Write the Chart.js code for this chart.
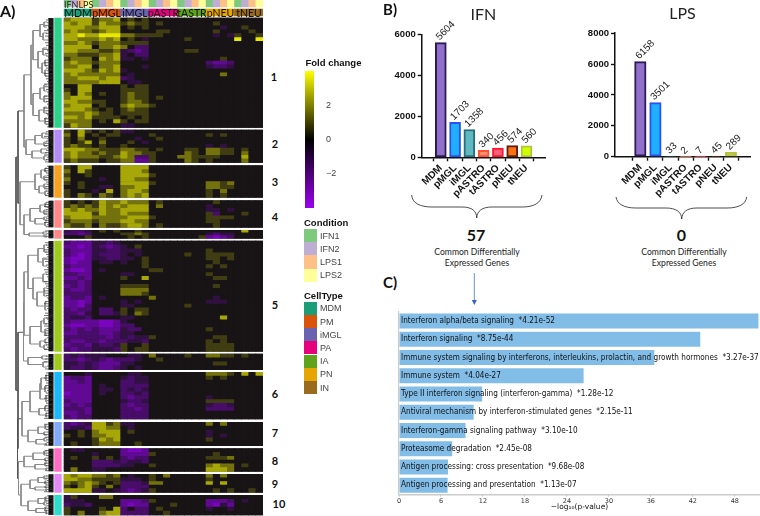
<!DOCTYPE html>
<html><head><meta charset="utf-8">
<style>
html,body{margin:0;padding:0;background:#fff;width:760px;height:516px;overflow:hidden}
canvas{position:absolute;display:block}
.t{position:absolute;white-space:nowrap;line-height:1;color:#111}
.sw{position:absolute;width:13px;height:13.2px}
svg{position:absolute;left:0;top:0}
</style>
<script src="https://cdn.jsdelivr.net/npm/chart.js@4"></script>
</head><body>
<svg width="760" height="516" viewBox="0 0 760 516">
<path d="M411.7 195C412 203 420 207 432 207L462 207C472 207 476.7 211 476.7 218C477 211 482 207 492 207L522 207C534 207 541 203 542 195" fill="none" stroke="#222" stroke-width=".8"/>
<path d="M616 197C617 204 624 208 636 208L666 208C676 208 681.7 212 681.7 219C682 212 687 208 697 208L727 208C739 208 746 204 746.7 197" fill="none" stroke="#222" stroke-width=".8"/>
<path d="M474.3 273L474.3 302" stroke="#6f8fdc" stroke-width="1" fill="none"/>
<path d="M471.8 300L476.8 300L474.3 305Z" fill="#3a5fcc"/>
</svg>
<script>
// ---------- Panel A data: fold-change codes per row, seven cell types x four conditions
// . = 0, 1..4 = rising positive fold change, a..d = rising negative fold change
const conditions = ['IFN1','IFN2','LPS1','LPS2'];
const cellTypes = ['MDM','PM','iMGL','PA','IA','PN','IN'];
const cellTypeHeaders = ['MDM','pMGL','iMGL','pASTR','tASTR','pNEU','tNEU'];
const codeLevels = {'.':0,'1':0.7,'2':1.6,'3':2.5,'4':3.6,'a':-0.8,'b':-1.5,'c':-2.3,'d':-3.1};
const cluster1 = [
"2333 1223 .1.1 .... .... .... ....",
"3233 1322 1211 .1.. .... .1.. ....",
"3332 2333 .1.1 .... .... ..a. .1..",
"2322 1233 .... .11. .... .1.. ..1.",
"3343 3444 2211 11.. .... .a.a 1..1",
"3322 2323 .1.a .... .1.. .... 4..4",
"2232 1222 1111 .... .... .... ....",
"3333 .223 2.bb .... .... .... ....",
"3322 2112 abcb .... .11. .... ....",
"2211 1223 a.bb .... .... .... ....",
"1222 .323 aa.a .... .... ..1. ....",
"2322 1222 .... .... .... bccb ....",
"2233 .223 ...a .... .... abba ....",
"3332 1323 a... .... .... .... ....",
"2322 2222 .a.. .... .... ..2. ....",
"2233 3233 ba.. .... .... .... ....",
"2222 2333 .aa. .... .... .... ....",
"..33 .... 1.11 .... .... .... ....",
"1.33 .... 1111 .... .... .... ....",
"2.32 .1.. 1211 .... .... .... ....",
"2333 .... 1211 .1.. .... .... ....",
"3322 11.. 1221 .... .... .... ....",
"2333 .1.. 2322 1... .... .... ....",
"3332 1.1. 1211 .... .... .... ....",
"2223 211. 1111 .... .... .... ....",
"3323 1111 .1.1 .... .... .... ....",
"2222 .1.3 1.11 .... .... .... ....",
"1322 .... aa.. .... .... .... ...."];
const cluster2 = [
"1.31 .1.1 aa.. .... .... .... ....",
"2.3. 1.11 .... 1... .... 1.1. ....",
"1.2. .1.. ..a. .1.. .... .... ....",
"1.13 .2.. .1.a .... .... .... ....",
"1211 .1.. 1... .... .... a.a. ....",
"3332 2111 2211 .1.. .11. 2211 .1..",
"2322 1211 3221 1... .21. 2211 .2..",
"2322 2112 32bb 1... 2211 11.. .3..",
"1211 1.11 22cc 1... .21. 1... .2.."];
const cluster3 = [
"1.33 .... 3333 .... .... .... ....",
"2.31 .... 3332 .... .... .... ....",
"1..1 .... 3333 1... .... .... ....",
"2... .a.. 3322 .... .... .... ....",
"1.1. .... 3333 1... .... 2212 ....",
"..1. .aa. 2233 .... .... 2211 ....",
"1... a.3. 2332 .... .... 1.2. ....",
"1.21 .21. 2323 .... .... 1.1. ...."];
const cluster4 = [
"1.1. 1322 3222 .1.. .... .1.. ....",
"1212 1323 2333 .2.. .... a... ....",
"3232 2322 3333 .... .... aa.a ....",
"3333 1322 3222 .... .... 1b.. .1..",
"2333 2222 2333 1... .... 1111 ....",
"1222 1222 3322 .... .... 11.. ....",
"2112 .211 2332 .1.. .... .1.. ...."];
const cluster4b = [
"abba .1.1 ..1. .... .... .... .3..",
"bbcb .... 1121 .... .... abaa ....",
"...1 .... .1.1 .... ...1 cdcb ...."];
const cluster5 = [
"bccc aaba .... .... .... .... ....",
"ccdc abcb a.1. .... .... .... ....",
"bccc aabb aaa. .... .... 1... ....",
"bcdc abbb a.a. .... .1.. 1111 ....",
"cddc aabb aa.1 .... .... 11.1 ....",
"cdcc .aa. a..1 .... .... .1.. ....",
"bccc .... ...1 .... .... 1.1. ....",
"cddc .a.. .... 11.. .... .... ....",
"bbcc .... aa.. .... .... 1... ....",
"ccbc .... 1..3 .... .... .11. ....",
"bbcb .... .... .... .... .... ....",
"cbcb .... 1111 .... .... .1.. ....",
"bccb .... 2222 .... .... .... ....",
"bbbb .... 2221 .... .... .... ....",
"cbbc .a.. .... 2... .... .a.. ....",
"ccdc .... a.a. .... .... aaa. ....",
"ccdb .... aa.. .... .1.. .... ....",
"bcbb .bb. 1.11 .... .... .... ....",
"bbca .bba 1.21 .... .... .... ....",
"baab .... aa.. .... .... ..3. ....",
"bccc cddc a... .... .... .... ....",
"cddc cddc bb.. .... .... .... ....",
"bcbc bccc abb. .... .... 1... ....",
"ccbb bccb aa.. .... .... .... ....",
"bbbb bbcb abaa 1... .... .11. ....",
"bccb bcbb baab .... .... 1.1. ....",
"cbbc abba 1..1 .... .... 1111 ....",
"bcbb aaab 1.11 .... .... 1111 ...."];
const cluster5b = [
"baba aa.. .aa. 2... .1.. 2211 .1..",
"bbcb abcb bba. .1.. .... .... ....",
"aaba bccc aa.. .... .... .11. ....",
"abba bccb a.a. .... .... .... ...."];
const cluster6 = [
"...a .... .aa. .... .... 2221 .3.3",
"cbbc .... abaa .... .... 1.1. ....",
"ccbc .... bbaa .... .... .... ....",
"cccc .a.. bbbb .... .... .... ....",
"cccc .aa. baba .... .... .... ....",
"dccc .a.. bbab .... .... .... ....",
"cccc .... bcbb .... .... a... ....",
"bccc .... abba .... .... 1111 ....",
"cbcb .... bcbb .... .... abba ....",
"bbbc .... bbcb .... .... bbbb ....",
"ccbc .... bbbb .... .... .... ....",
"bcbb .... bbbb .... .... .... ...."];
const cluster7 = [
"bcba 3312 aa.. .... .... 2.2. ....",
"baab 3322 .a.. .... .... .... ....",
"..1. 2333 .1.. .... .... a... ....",
"1.1. 2233 .... .... .... a.a. ....",
".... 1323 .... .... .... 1... ....",
".1.. 1222 ..1. .... .... .... ...."];
const cluster8 = [
".aa. .... cddc .... .... .... ....",
".... a... cccc 1... .... .1.. ....",
".1.. 1.1. bcbb .... .... 1112 ....",
".... bbba baab .... .... .... ....",
".... bbbb aa.. 1... .... 2322 .1..",
".2.. aa.. .... .... .... 3332 ...."];
const cluster9 = [
"3233 2212 .a.. 1.2. .... 2.2. ....",
"3322 1111 aaa. 1... .... 1... ....",
"2123 21.1 bbba 22.. .... 3.3. ....",
"1.23 1.2. bbbb .... .... .... ....",
"3333 aa.a bcba 1... .... .1.1 ..1."];
const cluster10 = [
"a1.. .22. .... .... .... .... ....",
"aaa. .... cccb 1... .... cccb .a..",
"baab .... cdcc ...1 .... cdac ....",
"1... .1.3 b.bb .1.. .... a..a ....",
"1.2. .233 bbbb ..1. .... .... ...."];
// leaf depth of the dendrogram comb, one digit per leaf
const leaves1 = "5736485269374851638472596384751629483756194837265948371625948372615948376259483716";
const leaves2 = "4738295637482916374829563748";
const leaves3 = "6382947361829473618294736182";
const leaves4 = "3748296174839261748392617";
const leaves4b = "846284";
const leaves5 = "4827361958274639185274639182746351928374619283746518293746152839476152839461728394615283746192";
const leaves5b = "37482913648";
const leaves6 = "7482936174829361748293617482936174829";
const leaves7 = "592837461928374619";
const leaves8 = "382947163829471638";
const leaves9 = "4728361947283619";
const leaves10 = "6381927463819274";
// dendrogram merges: [height, child, child]; a bare number is a leaf row
const tree1=[31,[33,[40,[44,22,27],[43,33,40]],[38,[43,48,55],[42,[45,60,66],[45,70,76]]]],[33,[40,[44,85,91],[44,96,102]],[39,[44,107,113],[45,118,124]]]];
const tree2=[26,[35,[42,133,138],[44,142,146]],[32,[41,149,153],[44,156,160]]];
const tree3=[35,[41,[45,168,172],[44,176,180]],[39,[44,184,188],[45,191,195]]];
const tree4=[30,[40,[45,203,207],[44,210,214]],[35,[44,217,220],[45,222,226]]];
const tree4b=[29,[43,232,234],[44,235,237]];
const tree5=[24,[28,[38,[44,245,252],[43,258,266]],[33,[43,274,282],[37,[44,288,296],[45,302,310]]]],[30,[41,[44,318,324],[45,329,335]],[40,[45,339,343],[44,345,349]]]];
const tree5b=[28,[42,356,359],[43,362,367]];
const tree6=[30,[40,[41,[46,375,381],[45,386,392]],[46,396,402]],[39,[45,406,411],[46,413,417]]];
const tree7=[28,[38,[45,425,429],[44,432,435]],[36,[44,438,441],[46,443,445]]];
const tree8=[24,[33,[44,451,455],[45,458,461]],[35,[45,463,466],[46,468,470]]];
const tree9=[30,[38,[44,476,479],[45,481,484]],[35,[45,486,488],[46,489,491]]];
const tree10=[28,[38,[45,497,500],[44,502,505]],[36,[45,507,510],[46,511,514]]];
const treeRoot=[16,[18,[24,tree1,tree2],[20,tree3,[24,tree4,tree4b]]],[18,[23.5,tree5,tree5b],[17.5,[22,tree6,tree7],[18.5,tree8,[21,tree9,tree10]]]]];

const clusterRows=[cluster1,cluster2,cluster3,cluster4,cluster4b,cluster5,cluster5b,cluster6,cluster7,cluster8,cluster9,cluster10];
const clusterLeaves=[leaves1,leaves2,leaves3,leaves4,leaves4b,leaves5,leaves5b,leaves6,leaves7,leaves8,leaves9,leaves10];
const clusterSpans=[[18,127.5],[130,162.5],[165.7,197.3],[200.7,227.3],[230.3,238.3],[241,351.3],[354,369.7],[372.3,419],[422.3,445.7],[448.7,471.3],[474.3,492.3],[495.3,515]];
const clusterColors=['#2ed18a','#b48cf8','#f8a020','#ff8888','#ff8888','#9ecb1e','#9ecb1e','#1cb8fa','#82aaf8','#ff6cc4','#e48af6','#2edccc'];
const clusterNames=[['1',274,76],['2',275,142.7],['3',275,181],['4',275,216],['5',275,304],['6',275,393.3],['7',275,432.3],['8',275,460],['9',275,482.7],['10',279,502.7]];
const conditionColors=['#7fc97f','#beaed4','#fdc086','#ffff99'];
const cellTypeColors=['#1b9e77','#d9540a','#6a64b0','#e6007e','#5ea31a','#e6a502','#9a6a1d'];
const foldTicks=[-2,0,2];

// ---------- Panel B data
const categoriesB=['MDM','pMGL','iMGL','pASTRO','tASTRO','pNEU','tNEU'];
const ifnValues=[5604,1703,1358,340,456,574,560];
const lpsValues=[6158,3501,33,2,7,45,289];
const ifnFills=['#9070c8','#1eb0ff','#60b8c0','#f89070','#f86078','#ff7010','#ccff00'];
const ifnBorders=['#2a1a58','#2a50f0','#266e7e','#ff5030','#ff1530','#602010','#b8c040'];
const lpsFills=['#9070c8','#1eb0ff','#60b8c0','#f89070','#f86078','#ff7010','#90c020'];
const lpsBorders=['#2a1a58','#2a50f0','#266e7e','#ff5030','#ff1530','#602010','#b8c040'];

// ---------- Panel C data
const terms=['Interferon alpha/beta signaling','Interferon signaling','Immune system signaling by interferons, interleukins, prolactin, and growth hormones','Immune system','Type II interferon signaling (interferon-gamma)','Antiviral mechanism by interferon-stimulated genes','Interferon-gamma signaling pathway','Proteasome degradation','Antigen processing: cross presentation','Antigen processing and presentation'];
const pTexts=['4.21e-52','8.75e-44','3.27e-37','4.04e-27','1.28e-12','2.15e-11','3.10e-10','2.45e-08','9.68e-08','1.13e-07'];
const logP=[51.38,43.06,36.49,26.39,11.89,10.67,9.51,7.61,7.01,6.95];

// ---------- helpers
Chart.defaults.animation=false;
Chart.defaults.responsive=false;
Chart.defaults.maintainAspectRatio=false;
Chart.defaults.plugins.legend.display=false;
Chart.defaults.plugins.tooltip.enabled=false;
function addCanvas(l,t,w,h){const c=document.createElement('canvas');c.width=w;c.height=h;c.style.cssText=`left:${l}px;top:${t}px;width:${w}px;height:${h}px`;document.body.appendChild(c);return c;}
function label(s,x,y,css,center){const d=document.createElement('div');d.className='t';d.textContent=s;d.style.cssText=`left:${x}px;top:${y}px;transform:translate(${center?'-50%':'0'},-50%);${css}`;document.body.appendChild(d);return d;}
const base=[24,20,22],hi=[255,255,0],lo=[150,0,240];
function foldColor(v){const t=Math.min(Math.abs(v)/4,1),e=v>=0?hi:lo;return `rgb(${base.map((b,i)=>Math.round(b+(e[i]-b)*t)).join(',')})`;}
const rowValues=r=>r.replace(/ /g,'').split('').map(c=>codeLevels[c]);

// ---------- heatmap
const heatColumns=[];cellTypes.forEach(ct=>conditions.forEach(c=>heatColumns.push(ct+' '+c)));
const heatSets=[];
clusterRows.forEach((rows,k)=>{const[a,b]=clusterSpans[k],h=(b-a)/rows.length;
 heatSets.push({label:'c'+k,data:heatColumns.map(()=>[a,b]),backgroundColor:foldColor(0),inflateAmount:0.2});
 rows.forEach((r,i)=>{const vals=rowValues(r);heatSets.push({label:'c'+k+'r'+i,data:vals.map(()=>[a+i*h,a+(i+1)*h]),backgroundColor:vals.map(foldColor),inflateAmount:0.35});});});
heatSets.push({label:'Condition',data:heatColumns.map(()=>[0,7]),backgroundColor:heatColumns.map((_,i)=>conditionColors[i%4])});
heatSets.push({label:'CellType',data:heatColumns.map(()=>[9,16]),backgroundColor:heatColumns.map((_,i)=>cellTypeColors[Math.floor(i/4)])});
new Chart(addCanvas(60,0,206,516),{type:'bar',data:{labels:heatColumns,datasets:heatSets.reverse()},options:{
 layout:{padding:{left:3.7,right:3}},
 datasets:{bar:{grouped:false,barPercentage:1,categoryPercentage:1,borderWidth:0}},
 scales:{x:{display:false},y:{display:false,min:0,max:516,reverse:true}}}});
cellTypeHeaders.forEach((s,i)=>label(s,78+i*28.5,12.7,"font:10.5px Lato;color:#111",true));
label('IFN',64,3.7,"font:9px Lato;color:#222");
label('LPS',78.5,3.7,"font:9px Lato;color:#222");

// ---------- cluster side bar
new Chart(addCanvas(50,0,16,516),{type:'bar',data:{labels:['cluster'],datasets:clusterSpans.map((s,i)=>({data:[s],backgroundColor:clusterColors[i]}))},options:{
 layout:{padding:{left:4.3,right:4.3}},
 datasets:{bar:{grouped:false,barPercentage:1,categoryPercentage:1}},
 scales:{x:{display:false},y:{display:false,min:0,max:516,reverse:true}}}});

// ---------- dendrogram
const lineDark=[],lineGray=[],lineComb=[],lineBand=[];
const gap=()=>({x:null,y:null});
function walk(n){if(typeof n==='number')return{x:47,y:n};
 const a=walk(n[1]),b=walk(n[2]),x=n[0],y=(a.y+b.y)/2,t=x<=18?lineDark:lineGray;
 t.push({x:a.x,y:a.y},{x:x,y:a.y},{x:x,y:b.y},{x:b.x,y:b.y},gap());return{x,y};}
const rootNode=walk(treeRoot);
clusterLeaves.forEach((s,k)=>{const[a,b]=clusterSpans[k],h=(b-a)/s.length;
 s.split('').forEach((d,i)=>{const y=a+(i+.5)*h;lineComb.push({x:53-(+d),y},{x:53,y},gap());});
 lineBand.push({x:51,y:a},{x:51,y:b},gap());});
const seg=(d,c,w)=>({data:d,showLine:true,spanGaps:false,borderColor:c,borderWidth:w,pointRadius:0,tension:0});
new Chart(addCanvas(0,0,56,516),{type:'scatter',data:{datasets:[seg(lineComb,'#333',.7),seg(lineBand,'#000',5),seg(lineGray,'#8a8a8a',1),seg(lineDark,'#555',1)]},options:{
 scales:{x:{display:false,min:0,max:56},y:{display:false,min:0,max:516,reverse:true}}}});
clusterNames.forEach(([s,x,y])=>label(s,x,y,"font:bold 11px Lato;color:#111",true));
label('A)',0,10,"font:bold 16px Lato");
label('B)',383,9,"font:bold 15px Lato");
label('C)',383,282,"font:bold 15px Lato");

// ---------- colour bar
new Chart(addCanvas(300,60,50,160),{type:'bar',data:{labels:['Fold change'],datasets:[{data:[[-4,4]],barPercentage:1,categoryPercentage:1,
 backgroundColor:c=>{const a=c.chart.chartArea;if(!a)return'#000';const g=c.chart.ctx.createLinearGradient(0,a.bottom,0,a.top);g.addColorStop(0,'#9a00f0');g.addColorStop(.5,'#000');g.addColorStop(1,'#ffff00');return g;}}]},options:{
 layout:{padding:{left:5,top:11,bottom:12,right:0}},
 scales:{x:{display:false},y:{position:'right',min:-4,max:4,grid:{display:false},border:{display:false},
  afterFit:s=>{s.width=36;},afterBuildTicks:a=>{a.ticks=foldTicks.map(value=>({value}));},
  ticks:{padding:4,color:'#444',font:{family:'Liberation Sans',size:9},callback:v=>String(v).replace('-','\u2212')}}}}});
const legendLabel="font:9px 'Liberation Sans';color:#444";
label('Fold change',305.5,62,"font:bold 9.5px 'Liberation Sans';color:#111");
label('Condition',304,222,"font:bold 9.5px 'Liberation Sans';color:#111");
label('CellType',304,295,"font:bold 9.5px 'Liberation Sans';color:#111");
function swatches(names,colors,top){names.forEach((s,i)=>{const d=document.createElement('div');d.className='sw';d.style.left='304px';d.style.top=(top+i*13.2)+'px';d.style.background=colors[i];document.body.appendChild(d);label(s,320,top+i*13.2+6.6,legendLabel);});}
swatches(conditions,conditionColors,229);
swatches(cellTypes,cellTypeColors,301.7);

// ---------- panel B
const valueLabels={id:'valueLabels',afterDatasetsDraw(ch){const{ctx}=ch,ds=ch.data.datasets[0];ch.getDatasetMeta(0).data.forEach((el,i)=>{ctx.save();ctx.translate(el.x-3,el.y-4);ctx.rotate(-Math.PI/4);ctx.font="10px 'Liberation Sans'";ctx.fillStyle='#222';ctx.textAlign='left';ctx.textBaseline='middle';ctx.fillText(String(ds.data[i].y),0,0);ctx.restore();});}};
function barPanel(o){
 new Chart(addCanvas(o.left,0,o.width,205),{type:'bar',plugins:[valueLabels],
 data:{datasets:[{data:o.values.map((y,x)=>({x,y})),backgroundColor:o.fills,borderColor:o.borders,borderWidth:2,borderSkipped:false,barThickness:o.bar}]},
 options:{
  layout:{padding:{top:o.padTop,right:o.padRight}},
  plugins:{title:{display:true,text:o.title,fullSize:false,color:'#222',font:{family:'Lato',size:16,weight:'normal'},padding:{top:0,bottom:o.titleGap}}},
  scales:{
   x:{type:'linear',min:o.xMin,max:o.xMax,
    afterBuildTicks:a=>{a.ticks=categoriesB.map((_,value)=>({value}));},
    afterFit:s=>{s.height=205-o.zero;},
    grid:{drawOnChartArea:false,tickLength:4,tickColor:'#111',tickWidth:1.4},
    border:{color:'#111',width:1.5},
    ticks:{autoSkip:false,minRotation:45,maxRotation:45,padding:1,color:'#111',font:{family:'Liberation Sans',size:10,weight:'bold'},callback:v=>categoriesB[v]}},
   y:{min:0,max:o.yMax,afterFit:s=>{s.width=o.axisW;},
    afterBuildTicks:a=>{a.ticks=a.ticks.filter(t=>t.value%2000===0);},
    grid:{drawOnChartArea:false,tickLength:4,tickColor:'#111',tickWidth:1.4},
    border:{color:'#111',width:1.5},
    ticks:{stepSize:2000,padding:2,color:'#111',font:{family:'Liberation Sans',size:9.5,weight:'bold'},callback:v=>String(v)}}}}});
}
barPanel({left:385,width:170,axisW:36.7,padRight:10,padTop:5,titleGap:10.3,zero:157.3,yMax:6000,xMin:-.72,xMax:6.68,bar:11,title:'IFN',values:ifnValues,fills:ifnFills,borders:ifnBorders});
barPanel({left:580,width:180,axisW:35,padRight:10,padTop:4,titleGap:10,zero:156.7,yMax:8000,xMin:-1.04,xMax:6.63,bar:11.5,title:'LPS',values:lpsValues,fills:lpsFills,borders:lpsBorders});
label('57',476,234,"font:bold 16px Lato;color:#111",true);
label('0',681.5,234,"font:bold 16px Lato;color:#111",true);
[[477,'Common Differentially',251.7],[477,'Expressed Genes',263],[684,'Common Differentially',251.7],[684,'Expressed Genes',263]].forEach(([x,s,y])=>label(s,x,y,"font:8.6px Lato;color:#222",true));

// ---------- panel C
const labelsC=terms.map((t,i)=>`${t}  *${pTexts[i]}`);
new Chart(addCanvas(390,305,370,211),{type:'bar',data:{labels:labelsC,datasets:[{data:logP,backgroundColor:'#82bde8',barPercentage:.82,categoryPercentage:1}]},options:{
 indexAxis:'y',
 layout:{padding:{left:9,top:6.2}},
 scales:{
  y:{afterFit:s=>{s.width=0;},grid:{display:false},border:{color:'#ccc',width:1.2},
   ticks:{mirror:true,z:1,padding:2,autoSkip:false,color:'#111',font:{family:"'DejaVu Sans Condensed','DejaVu Sans'",size:8.15}}},
  x:{min:0,max:51.6,afterFit:s=>{s.height=21.7;},
   afterBuildTicks:a=>{a.ticks=a.ticks.filter(t=>t.value%6===0);},
   grid:{drawOnChartArea:false,tickLength:2,tickColor:'#888'},border:{color:'#ccc',width:1.5},
   ticks:{stepSize:6,padding:1,color:'#333',maxRotation:0,font:{family:'DejaVu Sans',size:6.5}},
   title:{display:true,text:'\u2212log\u2081\u2080(p-value)',color:'#111',font:{family:'DejaVu Sans',size:7.5},padding:{top:0,bottom:4}}}}}});
</script>
</body></html>
